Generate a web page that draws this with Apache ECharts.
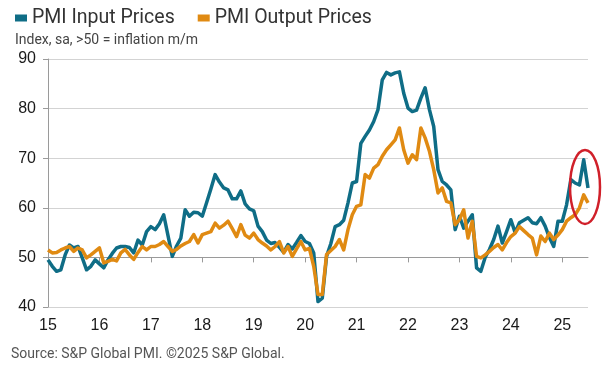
<!DOCTYPE html>
<html><head><meta charset="utf-8">
<script src="https://cdn.jsdelivr.net/npm/echarts@6/dist/echarts.min.js"></script>
<style>html,body{margin:0;padding:0;background:#fff}#c{width:611px;height:377px}</style>
</head><body><div id="c"></div>
<script>
// Monthly data, Jan 2015 .. Jul 2025
const startYear = 2015;
const yearTicks = [2015, 2016, 2017, 2018, 2019, 2020, 2021, 2022, 2023, 2024, 2025];
const seriesNames = ['PMI Input Prices', 'PMI Output Prices'];
const inputPrices = [
  49.5, 48.2, 47.2, 47.5, 50.5, 52.5, 51.9, 52.2, 49.9, 47.5, 48.2, 49.5,
  48.7, 47.9, 49.5, 50.8, 51.9, 52.2, 52.2, 52.0, 50.9, 53.5, 52.5, 55.2,
  56.2, 55.6, 56.8, 58.6, 54.4, 50.2, 52.3, 53.9, 59.6, 58.3, 59.1, 59.0,
  58.3, 61.0, 63.8, 66.7, 65.2, 64.0, 63.6, 61.8, 61.8, 63.4, 60.8, 59.8,
  59.4, 56.3, 55.2, 53.5, 52.8, 53.0, 52.0, 51.0, 52.6, 51.7, 53.0, 54.4,
  53.2, 52.8, 50.9, 41.1, 41.8, 50.2, 52.8, 56.2, 56.6, 57.5, 61.0, 65.0,
  65.3, 73.0, 74.4, 75.7, 77.4, 79.8, 85.8, 87.3, 86.8, 87.2, 87.4, 83.1,
  80.1, 79.4, 79.7, 82.1, 84.2, 79.8, 76.4, 67.7, 65.3, 64.6, 63.6, 55.6,
  58.3, 55.9, 57.3, 58.6, 47.9, 47.2, 50.0, 51.6, 53.6, 56.3, 52.9, 55.2,
  57.6, 55.0, 57.0, 57.5, 58.0, 57.0, 56.8, 58.0, 56.3, 54.0, 52.2, 57.3,
  57.3, 60.6, 65.7, 65.0, 64.6, 69.7, 64.0
];
const outputPrices = [
  51.5, 50.9, 51.0, 51.5, 51.9, 52.2, 51.2, 51.9, 51.5, 49.9, 50.5, 51.2,
  51.9, 48.9, 49.2, 49.6, 49.3, 50.9, 51.6, 50.5, 49.6, 51.0, 52.2, 51.5,
  52.2, 52.2, 52.6, 53.2, 52.2, 51.2, 51.6, 52.3, 52.8, 53.2, 54.6, 52.9,
  54.6, 54.9, 55.2, 56.9, 55.9, 56.5, 57.3, 55.8, 54.2, 56.6, 54.5, 53.9,
  54.9, 53.6, 52.9, 52.3, 51.5, 52.2, 53.2, 50.9, 52.2, 50.2, 51.7, 53.2,
  51.5, 51.8, 48.2, 42.5, 42.5, 50.6, 51.4, 52.2, 53.6, 51.5, 55.6, 58.6,
  60.3, 60.6, 66.7, 66.0, 68.0, 68.7, 70.4, 71.7, 72.7, 73.7, 76.1, 71.7,
  69.0, 70.7, 69.7, 76.1, 74.1, 71.4, 67.7, 63.0, 64.0, 61.3, 61.0, 56.6,
  57.6, 59.6, 53.9, 57.3, 50.2, 49.9, 50.5, 51.2, 52.0, 52.6, 51.5, 53.0,
  54.2, 54.9, 56.2, 55.4, 54.6, 53.9, 50.5, 54.3, 53.2, 54.9, 53.6, 54.5,
  55.6, 57.3, 58.0, 58.6, 60.0, 62.6, 61.0
];
const yMin = 40, yMax = 90, yStep = 10, axisCross = 50;
const colors = ['#0f6d86', '#e08a12'];

const toPairs = arr => arr.map((v, i) => [startYear + i / 12, v]);
const xMin = startYear;
const xMax = startYear + (inputPrices.length - 1) / 12;

const gridTop = 59, gridBottom = 70, H = 377;
const gridH = H - gridTop - gridBottom;
const crossOffset = -gridH * (axisCross - yMin) / (yMax - yMin);

const chart = echarts.init(document.getElementById('c'), null, {renderer: 'canvas'});
const fontTxt = 'Roboto, "Liberation Sans", sans-serif';
const fontNum = '"Liberation Sans", Arial, sans-serif';

chart.setOption({
  animation: false,
  color: colors,
  title: {
    text: 'Index, sa, >50 = inflation m/m',
    left: 10, top: 28,
    textStyle: {fontSize: 14, fontWeight: 'normal', color: '#444', fontFamily: fontTxt}
  },
  legend: {
    left: 10, top: 3,
    icon: 'rect', itemWidth: 12, itemHeight: 7, itemGap: 23,
    textStyle: {fontSize: 19.5, color: '#333', fontFamily: fontTxt},
    data: seriesNames
  },
  grid: {left: 48, right: 23, top: gridTop, bottom: gridBottom, containLabel: false},
  xAxis: [{
    type: 'value', min: xMin, max: xMax, position: 'bottom',
    axisLine: {show: false}, axisTick: {show: false}, splitLine: {show: false},
    axisLabel: {customValues: yearTicks, margin: 11, fontSize: 16, color: '#1a1a1a', fontFamily: fontNum,
      formatter: v => String(Math.round(v) % 100).padStart(2, '0')}
  }, {
    type: 'value', min: xMin, max: xMax, position: 'bottom', offset: crossOffset,
    axisLine: {show: true, lineStyle: {color: '#9a9a9a', width: 1}},
    axisTick: {show: true, customValues: yearTicks, length: 5, lineStyle: {color: '#9a9a9a'}},
    axisLabel: {show: false}, splitLine: {show: false}
  }],
  yAxis: {
    type: 'value', min: yMin, max: yMax, interval: yStep,
    axisLine: {show: true, lineStyle: {color: '#9a9a9a'}},
    axisTick: {show: true, length: 5, lineStyle: {color: '#9a9a9a'}},
    axisLabel: {margin: 12, fontSize: 16, color: '#1a1a1a', fontFamily: fontNum},
    splitLine: {show: true, lineStyle: {color: '#d3d3d3', width: 1}}
  },
  series: [
    {name: seriesNames[0], type: 'line', data: toPairs(inputPrices), showSymbol: false, symbol: 'none',
      lineStyle: {width: 3.5, color: colors[0], join: 'round'}, z: 2},
    {name: seriesNames[1], type: 'line', data: toPairs(outputPrices), showSymbol: false, symbol: 'none',
      lineStyle: {width: 3.5, color: colors[1], join: 'round'}, z: 3}
  ]
});

// Red highlight ellipse around the latest readings
const c = chart.convertToPixel({xAxisIndex: 0, yAxisIndex: 0}, [startYear + 125.3 / 12, 64.2]);
chart.setOption({
  graphic: [{
    type: 'text', left: 11, top: 347,
    style: {text: 'Source: S&P Global PMI. ©2025 S&P Global.', fill: '#555', font: '14px ' + fontTxt}
  }, {
    type: 'ellipse', shape: {cx: c[0], cy: c[1], rx: 15, ry: 37},
    style: {fill: 'none', stroke: '#d0202a', lineWidth: 2.5}, z: 10
  }]
});
</script></body></html>
